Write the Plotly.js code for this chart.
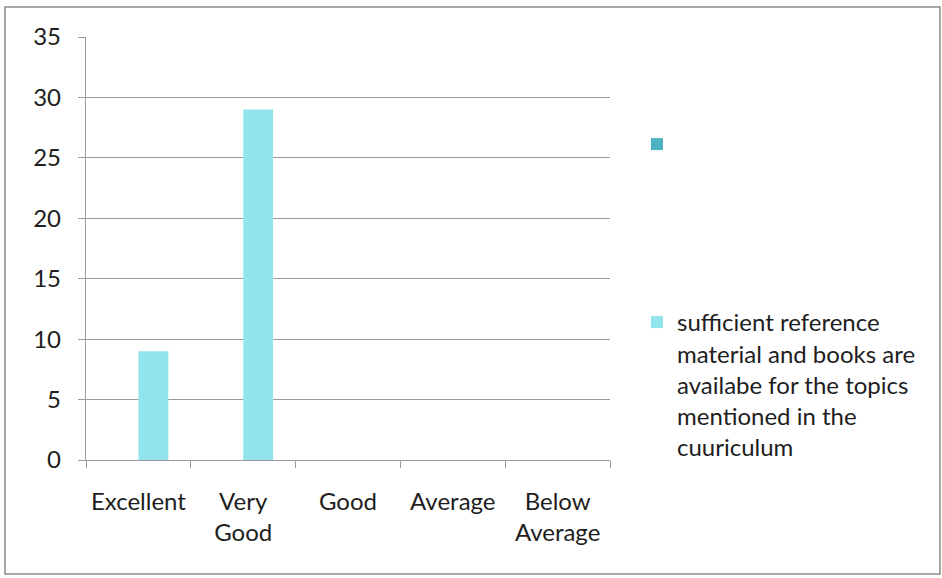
<!DOCTYPE html>
<html><head><meta charset="utf-8">
<script src="https://cdn.plot.ly/plotly-3.0.1.min.js"></script>
<style>html,body{margin:0;padding:0;background:#fff;}#chart{width:942px;height:578px;}</style>
</head><body><div id="chart"></div>
<script>
const categories = ["Excellent", "Very<br>Good", "Good", "Average", "Below<br>Average"];
const emptySeries = [null, null, null, null, null];
const seriesValues = [9, 29, 0, 0, 0];
const seriesName = "sufficient reference<br>material and books are<br>availabe for the topics<br>mentioned in the<br>cuuriculum";
const yTicks = [0, 5, 10, 15, 20, 25, 30, 35];

const font = {family: "Lato, 'Open Sans', sans-serif", size: 24, color: "#1e1e1e"};
const L = 86, R = 610, T = 37, B = 460;
const px = v => (v - L) / (R - L);
const py = v => (B - v) / (B - T);

const data = [
  {type: "bar", x: categories, y: emptySeries, name: " ", marker: {color: "#4db3c2"}, legend: "legend", showlegend: true},
  {type: "bar", x: categories, y: seriesValues, name: seriesName, marker: {color: "#92e4ec"}, legend: "legend2"}
];
const layout = {
  width: 942, height: 578,
  margin: {l: L, r: 942 - R, t: T, b: 578 - B},
  paper_bgcolor: "#fff", plot_bgcolor: "#fff",
  font: font,
  barmode: "group", bargap: 0.4286, bargroupgap: 0,
  xaxis: {type: "category", showline: true, linecolor: "#9a9a9a", linewidth: 1.2,
    ticks: "outside", tickson: "boundaries", ticklen: 7, tickcolor: "#9a9a9a",
    showgrid: false, tickfont: font, ticklabelstandoff: 20},
  yaxis: {range: [0, 35], tickvals: yTicks, showline: true, linecolor: "#9a9a9a", linewidth: 1.2,
    ticks: "outside", ticklen: 7, tickcolor: "#9a9a9a",
    showgrid: true, gridcolor: "#9a9a9a", gridwidth: 1.2, zeroline: false,
    tickfont: font, ticklabelstandoff: 12},
  legend: {x: px(637), y: py(122), xanchor: "left", yanchor: "top", font: font, bgcolor: "rgba(0,0,0,0)", itemwidth: 30},
  legend2: {x: px(637), y: py(300), xanchor: "left", yanchor: "top", font: font, bgcolor: "rgba(0,0,0,0)", valign: "top", itemwidth: 30, tracegroupgap: 0},
  shapes: [{type: "rect", xref: "paper", yref: "paper", x0: px(5), x1: px(940), y0: py(574), y1: py(7),
    line: {color: "#8a8a8a", width: 1.5}, layer: "below"}]
};
Plotly.newPlot("chart", data, layout, {staticPlot: true});
</script></body></html>
